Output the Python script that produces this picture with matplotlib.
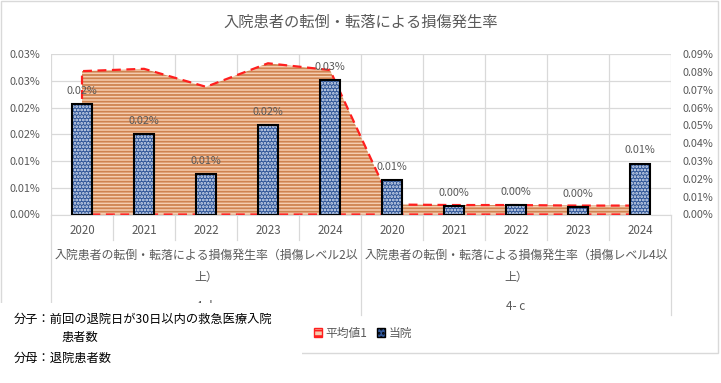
import matplotlib.pyplot as plt
import matplotlib.transforms as mtransforms
from matplotlib.patches import Patch, Rectangle
from matplotlib.lines import Line2D
import numpy as np

plt.rcParams['font.family'] = ['Noto Sans CJK JP', 'DejaVu Sans']
plt.rcParams['hatch.linewidth'] = 1.3

# data (values in %)
years = ['2020', '2021', '2022', '2023', '2024']
groups = ['4- b', '4- c']
group_names = ['入院患者の転倒・転落による損傷発生率（損傷レベル2以',
               '入院患者の転倒・転落による損傷発生率（損傷レベル4以']
group_names2 = ['上）', '上）']
own = [0.0206, 0.0151, 0.0076, 0.0167, 0.0251,
       0.0064, 0.0016, 0.0017, 0.0014, 0.0095]
avg = [0.0804, 0.0817, 0.0716, 0.0848, 0.0810,
       0.0056, 0.0053, 0.0053, 0.0050, 0.0050]
left_ticks = [0, 0.005, 0.01, 0.015, 0.02, 0.025, 0.03]
left_labels = ['0.00%', '0.01%', '0.01%', '0.02%', '0.02%', '0.03%', '0.03%']
right_ticks = [0, 0.01, 0.02, 0.03, 0.04, 0.05, 0.06, 0.07, 0.08, 0.09]
legend_names = ['平均値1', '当院']
title = '入院患者の転倒・転落による損傷発生率'
note1 = '分子：前回の退院日が30日以内の救急医療入院'
note1b = '患者数'
note2 = '分母：退院患者数'

W, H = 721, 383
fig = plt.figure(figsize=(W / 100, H / 100), dpi=100)
gray = '#595959'
grid = '#D9D9D9'

def fy(py):
    return 1 - py / H

ax = fig.add_axes([51 / W, fy(214.5), 620 / W, 160.5 / H])
ax2 = ax.twinx()
ax2.set_zorder(ax.get_zorder() - 1)
ax.patch.set_visible(False)
ax2.patch.set_facecolor('white')
ax2.patch.set_hatch('/////')
ax2.patch.set_edgecolor('#DCDCDC')

n = len(own)
x = np.arange(n)
ax.set_xlim(-0.5, n - 0.5)
ax.set_ylim(0, 0.03)
ax2.set_ylim(0, 0.09)

# grid
for t in left_ticks:
    ax.axhline(t, color=grid, lw=0.9, zorder=0)
for b in np.arange(-0.5, n, 1):
    ax.axvline(b, color=grid, lw=0.9, zorder=0)

# area (secondary axis scale)
tr = ax2.transData
ax.fill_between(x, avg, 0, transform=tr, facecolor='#F5CDB0', hatch='-----',
                edgecolor='#CF8350', linewidth=0, zorder=1)
px = [x[0]] + list(x) + [x[-1], x[0]]
py = [0] + avg + [0, 0]
ax.plot(px, py, transform=tr, color='#FF1F1F', lw=1.6, ls=(0, (4, 2.5)), zorder=2)

# bars
ax.bar(x, own, width=0.31, color='#2F5597', hatch='.....', edgecolor='#DDE6F5',
       linewidth=0, zorder=3)
ax.bar(x, own, width=0.31, facecolor='none', edgecolor='black', linewidth=1.5, zorder=4)
for xi, v in zip(x, own):
    ax.annotate('%.2f%%' % v, (xi, v), xytext=(0, 9.5), textcoords='offset points',
                ha='center', va='center', fontsize=7.8, color=gray, zorder=5)

# axes styling
ax.set_yticks(left_ticks)
ax.set_yticklabels(left_labels)
ax2.set_yticks(right_ticks)
ax2.set_yticklabels(['%.2f%%' % t for t in right_ticks])
for a in (ax, ax2):
    a.tick_params(axis='y', length=0, labelsize=7.8, labelcolor=gray, pad=8)
    for s in a.spines.values():
        s.set_visible(False)
ax.set_xticks([])
ax.spines['bottom'].set_visible(True)
ax.spines['bottom'].set_color(grid)

# multi-level category axis
bt = mtransforms.blended_transform_factory(ax.transData, fig.transFigure)
for i in range(n):
    ax.text(x[i], fy(230), years[i % 5], transform=bt, ha='center', va='center',
            fontsize=8.3, color=gray)
for i in range(n + 1):
    b = i - 0.5
    if i % 5 == 0:
        fig.add_artist(Line2D([b, b], [fy(214.5), fy(315)], transform=bt, color=grid, lw=0.9))
    else:
        fig.add_artist(Line2D([b, b], [fy(214.5), fy(240)], transform=bt, color=grid, lw=0.9))
for g in range(2):
    c = g * 5 + 2
    ax.text(c, fy(255), group_names[g], transform=bt, ha='center', va='center',
            fontsize=8.6, color=gray)
    ax.text(c, fy(277), group_names2[g], transform=bt, ha='center', va='center',
            fontsize=8.6, color=gray)
    ax.text(c, fy(306), groups[g], transform=bt, ha='center', va='center',
            fontsize=8.5, color=gray)

fig.text(0.5, fy(22), title, ha='center', va='center', fontsize=11, color=gray)

# legend
handles = [Patch(facecolor='#F5CDB0', edgecolor='#FF1F1F', hatch='---'),
           Patch(facecolor='#2F5597', edgecolor='black', hatch='....')]
fig.legend(handles, legend_names, loc='center', bbox_to_anchor=(363 / W, fy(333)),
           ncol=2, frameon=False, fontsize=8.5, handlelength=0.7, handleheight=0.9,
           handletextpad=0.3, columnspacing=0.8, labelcolor=gray)

# chart border and note box
fig.add_artist(Rectangle((1 / W, fy(353)), 717 / W, 352 / H, transform=fig.transFigure,
                         fill=False, edgecolor='#D9D9D9', lw=1, zorder=0))
fig.add_artist(Rectangle((0, 0), 302 / W, fy(303), transform=fig.transFigure,
                         facecolor='white', edgecolor='none', zorder=10))
fig.text(14 / W, fy(319), note1, fontsize=8.8, va='center', zorder=11)
fig.text(62 / W, fy(338), note1b, fontsize=8.8, va='center', zorder=11)
fig.text(14 / W, fy(358), note2, fontsize=8.8, va='center', zorder=11)

fig.savefig('out.png', dpi=100)
